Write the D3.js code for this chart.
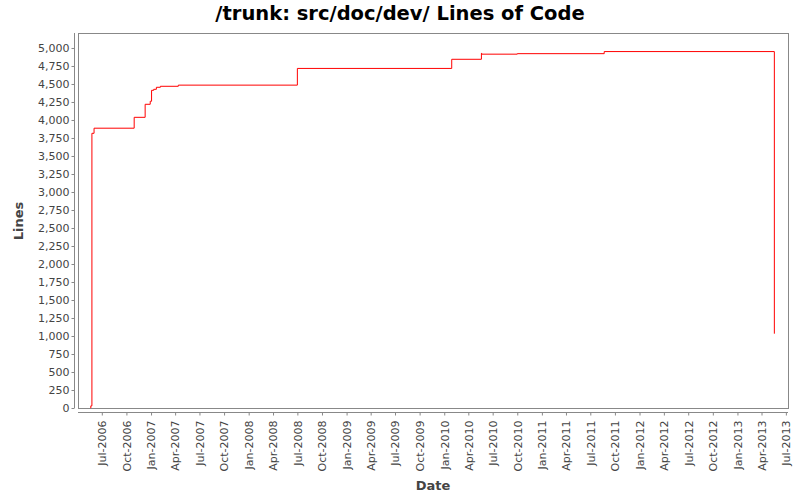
<!DOCTYPE html>
<html><head><meta charset="utf-8">
<script src="https://cdn.jsdelivr.net/npm/d3@7"></script>
<style>body{margin:0;background:#fff}svg{display:block}</style>
</head><body>
<svg id="c" width="800" height="500"></svg>
<script>
const dates = ["2006-05-20","2006-05-21","2006-05-25","2006-06-02","2006-10-30","2006-12-10","2006-12-29","2007-01-03","2007-01-11","2007-01-21","2007-02-05","2007-04-13","2008-07-01","2010-01-29","2010-05-20","2010-05-21","2010-10-01","2011-08-22","2013-05-19"];
const lines = [0,30,3815,3886,4037,4218,4260,4412,4426,4454,4468,4484,4716,4843,4926,4914,4921,4950,1032];
const yTicks = d3.range(0, 5001, 250);
const xTickMonths = ["2006-07","2006-10","2007-01","2007-04","2007-07","2007-10","2008-01","2008-04","2008-07","2008-10","2009-01","2009-04","2009-07","2009-10","2010-01","2010-04","2010-07","2010-10","2011-01","2011-04","2011-07","2011-10","2012-01","2012-04","2012-07","2012-10","2013-01","2013-04","2013-07"];

const parse = d3.utcParse("%Y-%m-%d");
const data = dates.map((d,i)=>({date: parse(d), v: lines[i]}));
const svg = d3.select("#c");
const L=78, R=788, T=33, B=408;
const x = d3.scaleUtc().domain([parse("2006-04-03"), parse("2013-07-09")]).range([L,R]);
const y = d3.scaleLinear().domain([0, 5208]).range([B,T]);
const font = "'DejaVu Sans', sans-serif";

svg.append("text").attr("x",400).attr("y",20).attr("text-anchor","middle")
  .attr("font-family",font).attr("font-weight","bold").attr("font-size",19.5)
  .attr("fill","#000").text("/trunk: src/doc/dev/ Lines of Code");

svg.append("rect").attr("x",L).attr("y",T).attr("width",R-L).attr("height",B-T)
  .attr("fill","#fff").attr("stroke","#888").attr("stroke-width",1).attr("shape-rendering","crispEdges");

// y axis
const yAxis = d3.axisLeft(y).tickValues(yTicks).tickFormat(d3.format(",")).tickSizeInner(3).tickSizeOuter(0).tickPadding(2);
const gy = svg.append("g").attr("transform","translate(74.5,0)").call(yAxis);
gy.select(".domain").attr("d",`M0,${T}V${B}`).attr("stroke","#888");
gy.selectAll(".tick line").attr("stroke","#888");
gy.selectAll("text").attr("font-family",font).attr("font-size",11).attr("fill","#444");

// x axis
const xAxis = d3.axisBottom(x).tickValues(xTickMonths.map(m=>d3.utcParse("%Y-%m")(m)))
  .tickFormat(d3.utcFormat("%b-%Y")).tickSizeInner(3).tickSizeOuter(0);
const gx = svg.append("g").attr("transform","translate(0,412.5)").call(xAxis);
gx.select(".domain").attr("d",`M${L},0H${R}`).attr("stroke","#888");
gx.selectAll(".tick line").attr("stroke","#888");
gx.selectAll("text").attr("font-family",font).attr("font-size",11).attr("fill","#444")
  .attr("text-anchor","end").attr("transform","rotate(-90)").attr("x",-8).attr("y",0).attr("dy","0.35em");

svg.append("text").attr("x",433).attr("y",490).attr("text-anchor","middle")
  .attr("font-family",font).attr("font-weight","bold").attr("font-size",13).attr("fill","#444").text("Date");
svg.append("text").attr("transform","translate(23,221) rotate(-90)").attr("text-anchor","middle")
  .attr("font-family",font).attr("font-weight","bold").attr("font-size",13).attr("fill","#444").text("Lines");

const line = d3.line().x(d=>x(d.date)).y(d=>y(d.v)).curve(d3.curveStepAfter);
svg.append("path").datum(data).attr("d",line).attr("fill","none").attr("stroke","#f00").attr("stroke-width",1);
</script>
</body></html>
